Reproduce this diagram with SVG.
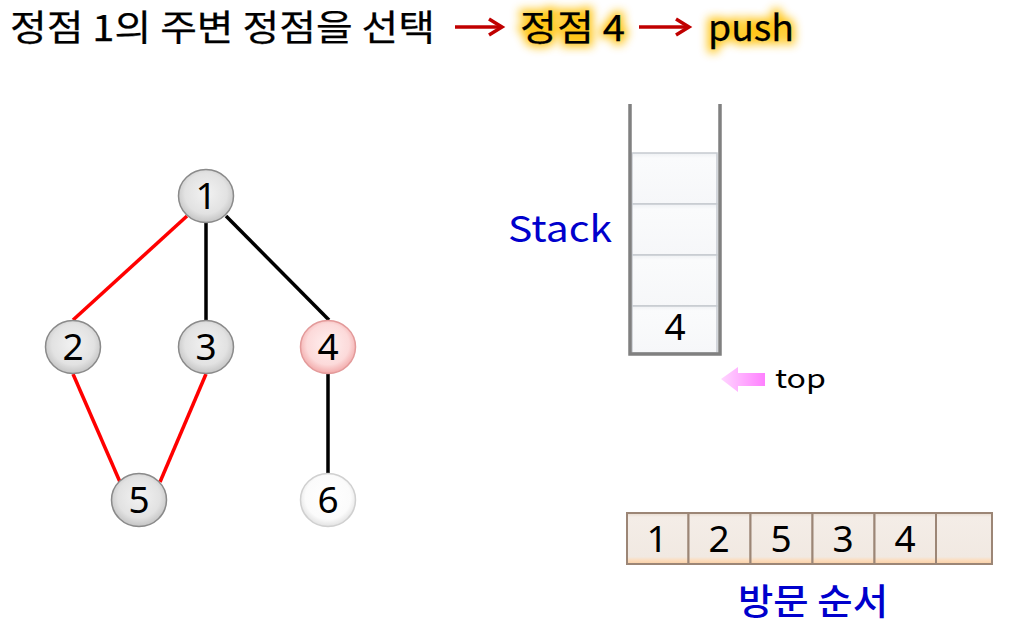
<svg xmlns="http://www.w3.org/2000/svg" width="1011" height="636" viewBox="0 0 1011 636">
<style>
.t{font-family:"Noto Sans CJK KR","Noto Sans",sans-serif;fill:#000}
.n{font-family:"Noto Sans","Noto Sans CJK KR",sans-serif;font-size:37px;fill:#000;text-anchor:middle}
.blue{font-family:"Noto Sans CJK KR","Noto Sans",sans-serif;fill:#0000cc}
.edge{stroke-width:3.5;fill:none}
.red{stroke:#ff0000}
.blk{stroke:#000}
.arr{stroke:#c00000;stroke-width:3.5;fill:none}
.cell{fill:url(#cellG);stroke:#c6cad0;stroke-width:1.5}
.vbox{fill:url(#vG);stroke:#9c8676;stroke-width:2}
</style>
<defs>
<radialGradient id="gGray" cx="0.5" cy="0.45" r="0.55">
<stop offset="0" stop-color="#f2f2f2"/><stop offset="0.7" stop-color="#e2e2e2"/><stop offset="1" stop-color="#c4c4c4"/>
</radialGradient>
<radialGradient id="gPink" cx="0.5" cy="0.45" r="0.55">
<stop offset="0" stop-color="#fff0f0"/><stop offset="0.7" stop-color="#fcdada"/><stop offset="1" stop-color="#f2aaaa"/>
</radialGradient>
<radialGradient id="gWhite" cx="0.5" cy="0.45" r="0.55">
<stop offset="0" stop-color="#ffffff"/><stop offset="0.75" stop-color="#fbfbfb"/><stop offset="1" stop-color="#e2e2e2"/>
</radialGradient>
<linearGradient id="cellG" x1="0" y1="0" x2="0" y2="1">
<stop offset="0" stop-color="#eef0f3"/><stop offset="0.1" stop-color="#fafbfc"/><stop offset="1" stop-color="#f6f7f9"/>
</linearGradient>
<linearGradient id="vG" x1="0" y1="0" x2="0" y2="1">
<stop offset="0" stop-color="#e6d9cd"/><stop offset="0.08" stop-color="#f4ede7"/><stop offset="0.86" stop-color="#f1e9e2"/><stop offset="0.93" stop-color="#fcdcbc"/><stop offset="1" stop-color="#f9cfa5"/>
</linearGradient>
<linearGradient id="topG" x1="0" y1="0" x2="1" y2="0">
<stop offset="0" stop-color="#ffd6ff"/><stop offset="1" stop-color="#ff80ff"/>
</linearGradient>
<filter id="glow" x="-30%" y="-60%" width="160%" height="220%">
<feGaussianBlur stdDeviation="5"/>
</filter>
</defs>

<g id="title">
<text class="t" x="10" y="41" font-size="36" textLength="425" lengthAdjust="spacingAndGlyphs" stroke="#000" stroke-width="0.25">정점 1의 주변 정점을 선택</text>
<g id="arrow-a"><line class="arr" x1="455" y1="27" x2="500" y2="27"/><polyline class="arr" points="489,19 502,27 489,35"/></g>
<g filter="url(#glow)" opacity="0.9">
<text class="t" x="520" y="41" font-size="36" textLength="105" lengthAdjust="spacingAndGlyphs" style="fill:#ffc000;stroke:#ffc000;stroke-width:7">정점 4</text>
<text class="t" x="708" y="41" font-size="36" textLength="86" lengthAdjust="spacingAndGlyphs" style="fill:#ffc000;stroke:#ffc000;stroke-width:7">push</text>
</g>
<text class="t" x="520" y="41" font-size="36" textLength="105" lengthAdjust="spacingAndGlyphs" stroke="#000" stroke-width="0.25">정점 4</text>
<g id="arrow-b"><line class="arr" x1="639" y1="27" x2="687" y2="27"/><polyline class="arr" points="676,19 689,27 676,35"/></g>
<text class="t" x="708" y="41" font-size="36" textLength="86" lengthAdjust="spacingAndGlyphs" stroke="#000" stroke-width="0.25">push</text>
</g>

<g id="connectors">
<line class="edge red" x1="187" y1="216" x2="73" y2="320"/>
<line class="edge blk" x1="206" y1="222" x2="206" y2="321"/>
<line class="edge blk" x1="226" y1="216" x2="329" y2="320"/>
<line class="edge blk" x1="328" y1="374" x2="328" y2="474"/>
<line class="edge red" x1="73" y1="374" x2="120" y2="482"/>
<line class="edge red" x1="206" y1="374" x2="160" y2="482"/>
</g>

<g id="node1"><ellipse cx="206" cy="196" rx="27.5" ry="26.5" fill="url(#gGray)" stroke="#8a8a8a" stroke-width="1.5"/><text class="n" x="206" y="209">1</text></g>
<g id="node2"><ellipse cx="73" cy="347" rx="27.5" ry="26.5" fill="url(#gGray)" stroke="#8a8a8a" stroke-width="1.5"/><text class="n" x="73" y="360">2</text></g>
<g id="node3"><ellipse cx="206" cy="347" rx="27.5" ry="26.5" fill="url(#gGray)" stroke="#8a8a8a" stroke-width="1.5"/><text class="n" x="206" y="360">3</text></g>
<g id="node4"><ellipse cx="328" cy="347" rx="27.5" ry="26.5" fill="url(#gPink)" stroke="#e39a9a" stroke-width="1.5"/><text class="n" x="328" y="360">4</text></g>
<g id="node5"><ellipse cx="139" cy="500" rx="27.5" ry="26.5" fill="url(#gGray)" stroke="#8a8a8a" stroke-width="1.5"/><text class="n" x="139" y="513">5</text></g>
<g id="node6"><ellipse cx="328" cy="500" rx="27.5" ry="26.5" fill="url(#gWhite)" stroke="#d0d0d0" stroke-width="1.5"/><text class="n" x="328" y="513">6</text></g>

<g id="stack">
<text class="blue" x="508" y="242" font-size="36" textLength="104" lengthAdjust="spacingAndGlyphs">Stack</text>
<rect class="cell" x="632" y="153" width="85" height="51"/>
<rect class="cell" x="632" y="204" width="85" height="51"/>
<rect class="cell" x="632" y="255" width="85" height="51"/>
<rect class="cell" x="632" y="306" width="85" height="47"/>
<text class="n" x="675" y="340">4</text>
<polyline points="630,104 630,354 720,354 720,104" fill="none" stroke="#808080" stroke-width="3.5"/>
</g>

<g id="top">
<polygon points="721,379 738,367 738,373 765,373 765,386 738,386 738,392" fill="url(#topG)"/>
<text class="t" x="775" y="388" font-size="26" textLength="51" lengthAdjust="spacingAndGlyphs">top</text>
</g>

<g id="visit">
<rect class="vbox" x="627" y="513" width="61.5" height="51"/>
<rect class="vbox" x="688.5" y="513" width="62" height="51"/>
<rect class="vbox" x="750.5" y="513" width="62" height="51"/>
<rect class="vbox" x="812.5" y="513" width="62" height="51"/>
<rect class="vbox" x="874.5" y="513" width="61.5" height="51"/>
<rect class="vbox" x="936" y="513" width="56" height="51"/>
<text class="n" x="657" y="552">1</text>
<text class="n" x="719" y="552">2</text>
<text class="n" x="781" y="552">5</text>
<text class="n" x="843" y="552">3</text>
<text class="n" x="905" y="552">4</text>
<text class="blue" x="813" y="615" font-size="36" font-weight="500" text-anchor="middle" textLength="150" lengthAdjust="spacingAndGlyphs">방문 순서</text>
</g>
</svg>
